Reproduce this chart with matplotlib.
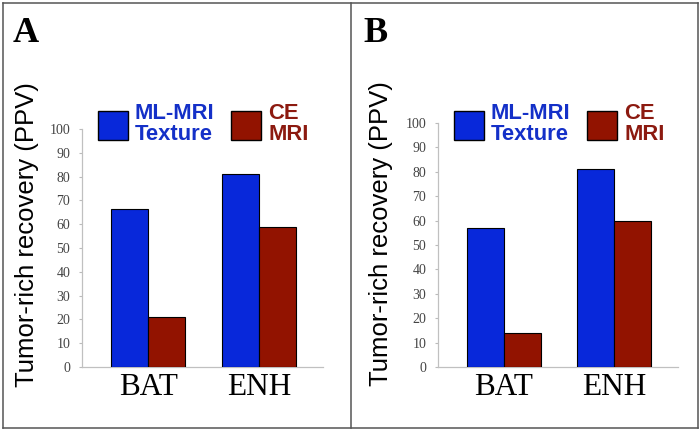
import matplotlib
matplotlib.use("Agg")
import matplotlib.pyplot as plt
from matplotlib.patches import Rectangle
from matplotlib.lines import Line2D

categories = ["BAT", "ENH"]
series_names = ["ML-MRI\nTexture", "CE\nMRI"]
panel_a_ml = [66.5, 81]
panel_a_ce = [21, 59]
panel_b_ml = [57, 81]
panel_b_ce = [14, 60]
yticks = list(range(0, 101, 10))
panel_letters = ["A", "B"]
ylabel = "Tumor-rich recovery (PPV)"

BLUE = "#0828DA"
RED = "#921300"
BLUE_TXT = "#1430C8"
RED_TXT = "#8C1A10"

W, H = 700, 432
fig = plt.figure(figsize=(7, 4.32), dpi=100)
fig.patch.set_facecolor("white")

def fx(px):
    return px / W

def fy(py):
    return 1 - py / H

panels = [
    dict(ax=(82, 323, 367, 129), xl=(-0.595, 1.572), w=0.333, ml=panel_a_ml, ce=panel_a_ce,
         letter=(13, 42), ylab=(27, 235), leg=(98, 231)),
    dict(ax=(438, 678, 367, 123), xl=(-0.60, 1.582), w=0.336, ml=panel_b_ml, ce=panel_b_ce,
         letter=(363, 42), ylab=(381, 234), leg=(454, 587)),
]

for i, p in enumerate(panels):
    x0, x1, y0, y1 = p["ax"]
    ax = fig.add_axes([fx(x0), fy(y0), fx(x1 - x0), (y0 - y1) / H])
    xs = list(range(len(categories)))
    w = p["w"]
    ax.bar([x - w / 2 for x in xs], p["ml"], width=w, color=BLUE, edgecolor="black", linewidth=0.8, zorder=3)
    ax.bar([x + w / 2 for x in xs], p["ce"], width=w, color=RED, edgecolor="black", linewidth=0.8, zorder=3)
    ax.set_xlim(*p["xl"])
    ax.set_ylim(0, 100)
    ax.set_yticks(yticks)
    ax.set_yticklabels([str(t) for t in yticks], family="Liberation Serif", fontsize=10, color="#444444")
    ax.set_xticks(xs)
    ax.set_xticklabels(categories, family="Liberation Serif", fontsize=22.5, color="black")
    ax.tick_params(axis="x", length=0, pad=4)
    ax.tick_params(axis="y", length=2.5, width=0.8, color="#bbbbbb", pad=6)
    for s in ["top", "right"]:
        ax.spines[s].set_visible(False)
    for s in ["left", "bottom"]:
        ax.spines[s].set_color("#c0c0c0")
        ax.spines[s].set_linewidth(0.9)
    ax.patch.set_alpha(0)

    lx, ly = p["letter"]
    fig.text(fx(lx), fy(ly), panel_letters[i], family="Liberation Serif", fontweight="bold",
             fontsize=26, ha="left", va="baseline")
    yx, yy = p["ylab"]
    fig.text(fx(yx), fy(yy), ylabel, family="Liberation Sans", fontsize=18.5, rotation=90,
             ha="center", va="center")

    for j, (lxp, col, tcol) in enumerate(zip(p["leg"], [BLUE, RED], [BLUE_TXT, RED_TXT])):
        fig.patches.append(Rectangle((fx(lxp), fy(140)), fx(30), 29 / H, transform=fig.transFigure,
                                     facecolor=col, edgecolor="black", linewidth=1.0))
        fig.text(fx(lxp + 37), fy(124), series_names[j], family="Liberation Sans", fontweight="bold",
                 fontsize=15.8, color=tcol, ha="left", va="center", linespacing=1.05)

frame_col = "#555555"
for xs_, ys_ in [((3, 698), (3, 3)), ((3, 698), (428, 428)), ((3, 3), (3, 428)),
                 ((698, 698), (3, 428)), ((351, 351), (3, 428))]:
    fig.lines.append(Line2D([fx(v) for v in xs_], [fy(v) for v in ys_], transform=fig.transFigure,
                            color=frame_col, linewidth=1.1))

fig.savefig("out.png", dpi=100)
